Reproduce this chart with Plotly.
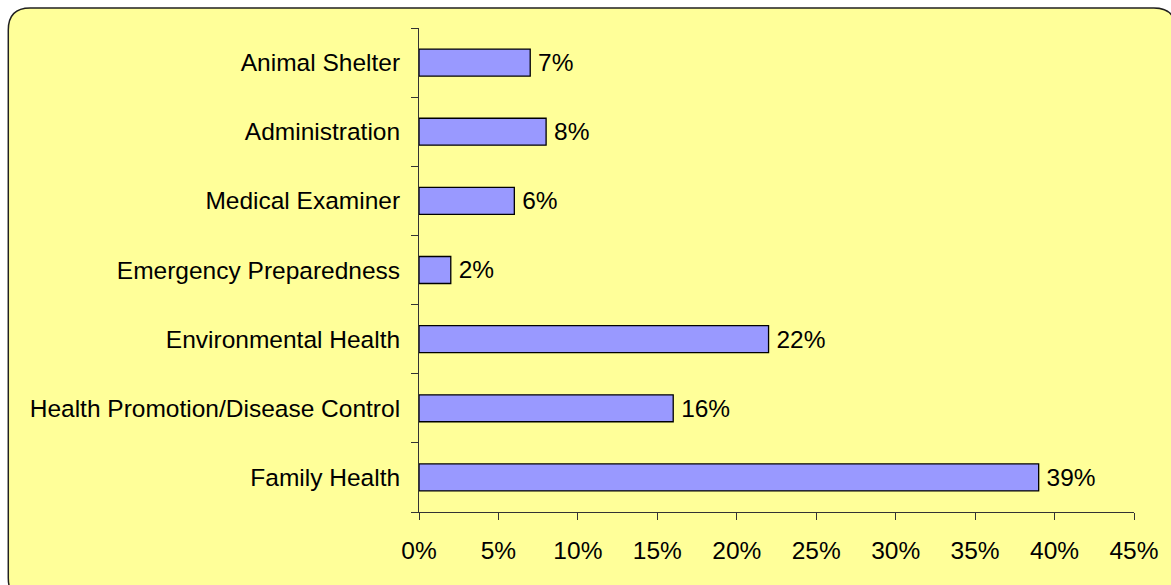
import plotly.graph_objects as go

categories = ["Family Health", "Health Promotion/Disease Control", "Environmental Health",
              "Emergency Preparedness", "Medical Examiner", "Administration", "Animal Shelter"]
values = [39, 16, 22, 2, 6, 8, 7]
x_ticks = [0, 5, 10, 15, 20, 25, 30, 35, 40, 45]
x_tick_labels = [f"{v}%" for v in x_ticks]
bar_labels = [f"\u2009{v}%" for v in values]

W, H = 1171, 585
L, R, T, B = 419, 1138, 28, 512
FONT = "Liberation Sans, Arial"
FS = 24.5

def px(xp, yp):
    return (xp - L) / (R - L), (B - yp) / (B - T)

def P(a, b):
    u, v = px(a, b)
    return f"{u:.5f},{v:.5f}"

# rounded frame path (layout decoration)
x0, y0, x1, y1, r = 6, 8, 1180, 600, 22
path = (f"M {P(x0, y0 + r)} Q {P(x0, y0)} {P(x0 + r, y0)} L {P(x1 - r, y0)} "
        f"Q {P(x1, y0)} {P(x1, y0 + r)} L {P(x1, y1 - r)} Q {P(x1, y1)} {P(x1 - r, y1)} "
        f"L {P(x0 + r, y1)} Q {P(x0, y1)} {P(x0, y1 - r)} Z")

fig = go.Figure(go.Bar(
    y=categories, x=values, orientation="h",
    marker=dict(color="#9999FF", line=dict(color="black", width=1.3)),
    text=bar_labels, textposition="outside", cliponaxis=False,
    textfont=dict(family=FONT, size=FS, color="black"),
    hoverinfo="skip",
))

fig.update_layout(
    width=W, height=H,
    margin=dict(l=L, r=W - R, t=T, b=H - B, pad=0),
    paper_bgcolor="white",
    plot_bgcolor="rgba(0,0,0,0)",
    bargap=0.61,
    showlegend=False,
    font=dict(family=FONT, size=FS, color="black"),
    shapes=[dict(type="path", xref="paper", yref="paper", path=path,
                 fillcolor="#FFFF99", line=dict(color="#202020", width=1.5), layer="below")],
)
fig.update_xaxes(range=[0, 45], tickvals=x_ticks, ticktext=x_tick_labels,
                 showgrid=False, zeroline=False, showline=True, linecolor="#333333", linewidth=1,
                 ticks="outside", ticklen=7, tickcolor="#333333", ticklabelstandoff=10,
                 tickfont=dict(size=FS))
fig.update_yaxes(type="category", categoryorder="array", categoryarray=categories,
                 showgrid=False, zeroline=False, showline=True, linecolor="#333333", linewidth=1,
                 ticks="outside", ticklen=7, tickcolor="#333333", tickson="boundaries",
                 ticklabelstandoff=13, tickfont=dict(size=FS))

fig.write_html("out.html", config={"displayModeBar": False},
               post_script="document.body.style.margin='0';document.body.style.overflow='hidden';")
